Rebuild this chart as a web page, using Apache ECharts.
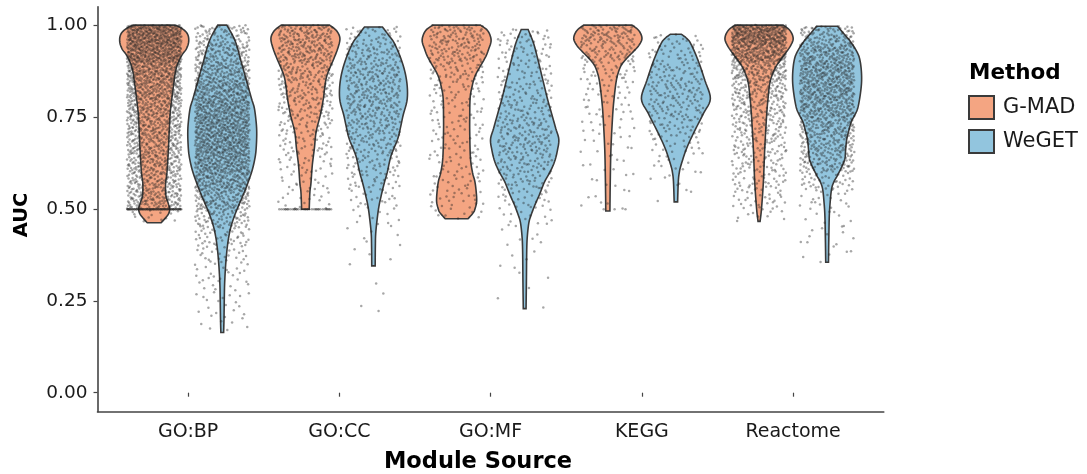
<!DOCTYPE html>
<html>
<head>
<meta charset="utf-8">
<script src="https://cdn.jsdelivr.net/npm/echarts@6/dist/echarts.min.js"></script>
<style>
  html, body { margin: 0; padding: 0; background: #fff; }
  #chart { width: 1087px; height: 474px; }
</style>
</head>
<body>
<div id="chart"></div>
<script>
// categories and methods
var categories = ['GO:BP', 'GO:CC', 'GO:MF', 'KEGG', 'Reactome'];
var methods = ['G-MAD', 'WeGET'];
var yTicks = [0, 0.25, 0.5, 0.75, 1];

// violin outlines: [AUC, relative half width (1 = widest)]
var gmadBP = [[1.00,0.61],[0.99,0.82],[0.975,0.97],[0.955,1.0],[0.935,0.93],[0.918,0.80],[0.895,0.68],[0.87,0.61],[0.85,0.58],[0.80,0.51],[0.757,0.46],[0.70,0.43],[0.66,0.41],[0.60,0.37],[0.57,0.33],[0.537,0.34],[0.515,0.41],[0.50,0.45],[0.485,0.40],[0.463,0.20]];
var gmadCC = [[1.00,0.70],[0.985,0.90],[0.965,1.0],[0.94,0.95],[0.91,0.83],[0.865,0.63],[0.83,0.56],[0.80,0.52],[0.755,0.43],[0.71,0.31],[0.665,0.26],[0.62,0.20],[0.57,0.16],[0.547,0.13],[0.50,0.11]];
var gmadMF = [[1.00,0.69],[0.985,0.90],[0.96,1.0],[0.935,0.93],[0.91,0.82],[0.865,0.55],[0.83,0.44],[0.80,0.39],[0.75,0.38],[0.71,0.38],[0.64,0.40],[0.60,0.46],[0.575,0.53],[0.545,0.57],[0.52,0.58],[0.50,0.53],[0.49,0.48],[0.474,0.33]];
var gmadKEGG = [[1.00,0.70],[0.985,0.90],[0.964,0.99],[0.945,0.90],[0.928,0.74],[0.91,0.55],[0.891,0.39],[0.87,0.30],[0.846,0.24],[0.80,0.18],[0.755,0.14],[0.664,0.09],[0.573,0.07],[0.495,0.06]];
var gmadReact = [[1.00,0.70],[0.985,0.90],[0.964,0.99],[0.945,0.92],[0.928,0.80],[0.905,0.62],[0.882,0.46],[0.846,0.32],[0.80,0.26],[0.755,0.22],[0.664,0.165],[0.573,0.125],[0.50,0.07],[0.467,0.03]];

var wegetBP = [[1.00,0.13],[0.958,0.37],[0.90,0.55],[0.85,0.70],[0.80,0.85],[0.775,0.93],[0.74,0.98],[0.71,1.0],[0.675,0.99],[0.645,0.96],[0.61,0.88],[0.573,0.75],[0.535,0.59],[0.50,0.43],[0.47,0.31],[0.44,0.22],[0.40,0.15],[0.35,0.10],[0.30,0.07],[0.26,0.06],[0.20,0.05],[0.165,0.04]];
var wegetCC = [[0.995,0.26],[0.975,0.42],[0.95,0.61],[0.90,0.83],[0.85,0.96],[0.80,0.98],[0.755,0.86],[0.72,0.78],[0.69,0.70],[0.645,0.51],[0.60,0.40],[0.57,0.31],[0.535,0.22],[0.50,0.145],[0.44,0.07],[0.40,0.055],[0.346,0.05]];
var wegetMF = [[0.988,0.10],[0.95,0.26],[0.90,0.40],[0.85,0.53],[0.80,0.66],[0.76,0.78],[0.72,0.90],[0.69,0.99],[0.66,0.95],[0.63,0.87],[0.60,0.73],[0.575,0.58],[0.54,0.43],[0.51,0.29],[0.485,0.19],[0.465,0.125],[0.43,0.08],[0.39,0.06],[0.30,0.05],[0.23,0.04]];
var wegetKEGG = [[0.975,0.16],[0.965,0.30],[0.95,0.43],[0.905,0.64],[0.85,0.84],[0.80,1.0],[0.76,0.80],[0.71,0.53],[0.665,0.31],[0.62,0.15],[0.60,0.10],[0.575,0.07],[0.52,0.05]];
var wegetReact = [[0.997,0.30],[0.975,0.50],[0.955,0.68],[0.93,0.85],[0.91,0.94],[0.88,0.99],[0.846,1.0],[0.81,0.96],[0.775,0.89],[0.755,0.80],[0.737,0.70],[0.71,0.62],[0.69,0.57],[0.664,0.54],[0.64,0.52],[0.627,0.48],[0.61,0.40],[0.59,0.29],[0.575,0.20],[0.555,0.13],[0.52,0.09],[0.482,0.064],[0.42,0.05],[0.356,0.04]];

// number of jittered modules per AUC bin (bins of 0.05, from 1.00 down), estimated from the dot clouds
var binTops = [1.00,0.95,0.90,0.85,0.80,0.75,0.70,0.65,0.60,0.55,0.50,0.45,0.40,0.35,0.30,0.25,0.20];
var gmadBPdots = [300,275,200,175,150,138,130,122,113,120,15];
var gmadCCdots = [109,106,79,67,54,41,33,25,19,15];
var gmadMFdots = [75,70,45,30,25,23,22,22,22,20,8];
var gmadKEGGdots = [86,61,32,21,16,13,10,8,7,6];
var gmadReactDots = [290,215,126,90,74,62,53,46,37,28,10];
var gmadAtHalf = [80, 35, 0, 3, 0];   // modules sitting exactly at AUC 0.5

var wegetBPdots = [70,100,125,155,180,192,192,176,145,110,70,42,27,20,15,11,7];
var wegetCCdots = [35,62,74,80,75,66,53,39,30,19,10,6,4,1,2,1,0];
var wegetMFdots = [25,30,30,38,45,55,60,50,37,24,13,6,4,3,3,1,0];
var wegetKEGGdots = [12,31,42,53,50,35,21,12,6,2];
var wegetReactDots = [80,130,150,150,135,108,90,80,40,17,10,9,6];
var wegetAtHalf = [0, 0, 0, 0, 0];

var gmadViolins = [gmadBP, gmadCC, gmadMF, gmadKEGG, gmadReact];
var wegetViolins = [wegetBP, wegetCC, wegetMF, wegetKEGG, wegetReact];
var gmadDots = [gmadBPdots, gmadCCdots, gmadMFdots, gmadKEGGdots, gmadReactDots];
var wegetDots = [wegetBPdots, wegetCCdots, wegetMFdots, wegetKEGGdots, wegetReactDots];

var ORANGE = '#F4A582', BLUE = '#92C5DE', OUTLINE = '#3a3a3a';
var DODGE = 0.225;     // violin centre offset from the category position
var MAXHALF = 0.228;   // widest half width, in category units
var JITTER = 0.18;     // horizontal jitter of the dots
var FONT = 'DejaVu Sans, sans-serif';

// catmull-rom through the outline points (pixel space)
function smoothSide(pts, cxPx) {
  var out = [pts[0]], n = 6;
  for (var i = 0; i < pts.length - 1; i++) {
    var p0 = pts[Math.max(i - 1, 0)], p1 = pts[i], p2 = pts[i + 1], p3 = pts[Math.min(i + 2, pts.length - 1)];
    for (var s = 1; s <= n; s++) {
      var t = s / n, t2 = t * t, t3 = t2 * t;
      var x = 0.5 * ((2 * p1[0]) + (-p0[0] + p2[0]) * t + (2 * p0[0] - 5 * p1[0] + 4 * p2[0] - p3[0]) * t2 + (-p0[0] + 3 * p1[0] - 3 * p2[0] + p3[0]) * t3);
      var y = 0.5 * ((2 * p1[1]) + (-p0[1] + p2[1]) * t + (2 * p0[1] - 5 * p1[1] + 4 * p2[1] - p3[1]) * t2 + (-p0[1] + 3 * p1[1] - 3 * p2[1] + p3[1]) * t3);
      out.push([Math.max(x, cxPx + 0.6), y]);
    }
  }
  return out;
}

function violinRenderer(profiles, offset) {
  return function (params, api) {
    var prof = profiles[params.dataIndex];
    var cx = api.value(0) + offset;
    var cxPx = api.coord([cx, 0])[0];
    var halfPx = api.size([MAXHALF, 0])[0];
    var right = prof.map(function (p) {
      return [cxPx + p[1] * halfPx, api.coord([cx, p[0]])[1]];
    });
    var side = smoothSide(right, cxPx);
    var left = side.map(function (p) { return [2 * cxPx - p[0], p[1]]; }).reverse();
    return {
      type: 'polygon',
      shape: { points: side.concat(left) },
      style: { fill: api.visual('color'), stroke: OUTLINE, lineWidth: 1.6 }
    };
  };
}

// radical inverse, for a Halton layout of the jittered dots
function halton(i, base) {
  var f = 1, r = 0;
  while (i > 0) { f /= base; r += f * (i % base); i = Math.floor(i / base); }
  return r;
}

// spread each violin's modules over the jitter band, each bin getting its own count
function addDots(prof, counts, atHalf, cx, seed, out) {
  var top = prof[0][0], bot = prof[prof.length - 1][0];
  var ranges = counts.map(function (n, b) {
    var hi = binTops[b], lo = hi - 0.05;
    if (hi > top) hi = top;
    if (lo < bot && hi > bot) lo = bot;
    return [lo, hi];
  });
  var cum = [0];
  counts.forEach(function (n) { cum.push(cum[cum.length - 1] + n); });
  var total = cum[cum.length - 1];
  for (var i = 0; i < total; i++) {
    var idx = seed + i;
    var u = halton(idx, 3), v = halton(idx, 2);
    var t = v * total, b = 0;
    while (b < counts.length - 1 && t >= cum[b + 1]) b++;
    var f = (t - cum[b]) / counts[b];
    var r = ranges[b];
    out.push([cx + (2 * u - 1) * JITTER, r[1] - f * (r[1] - r[0])]);
  }
  for (var j = 0; j < atHalf; j++) {
    out.push([cx + (2 * halton(seed + total + j, 5) - 1) * JITTER, 0.5]);
  }
}

var dotData = [];
categories.forEach(function (c, i) {
  addDots(gmadViolins[i], gmadDots[i], gmadAtHalf[i], i + 1 - DODGE, i * 977 + 11, dotData);
  addDots(wegetViolins[i], wegetDots[i], wegetAtHalf[i], i + 1 + DODGE, i * 977 + 4133, dotData);
});

var positions = categories.map(function (c, i) { return [i + 1, 0.5]; });

var chart = echarts.init(document.getElementById('chart'));
var option = {
  animation: false,
  grid: [
    { left: 97.5, right: 203.2, top: 6.7, bottom: 62.3 },
    { left: 112.6, right: 218.3, top: 25, bottom: 81.3 }
  ],
  xAxis: [
    { gridIndex: 0, type: 'value', min: 0.4, max: 5.6,
      axisLine: { show: true, onZero: false, lineStyle: { color: '#444', width: 1.6 } },
      axisTick: { show: false }, axisLabel: { show: false }, splitLine: { show: false } },
    { gridIndex: 1, type: 'category', data: categories, boundaryGap: true, offset: 19,
      axisLine: { show: false },
      axisTick: { show: true, alignWithLabel: true, length: 4, lineStyle: { color: '#444', width: 1.2 } },
      axisLabel: { fontSize: 19, color: '#1a1a1a', fontFamily: FONT, margin: 11 },
      splitLine: { show: false } }
  ],
  yAxis: [
    { gridIndex: 0, type: 'value', min: -0.05, max: 1.05,
      axisLine: { show: true, onZero: false, lineStyle: { color: '#444', width: 1.6 } },
      axisTick: { show: false }, axisLabel: { show: false }, splitLine: { show: false } },
    { gridIndex: 1, type: 'value', min: yTicks[0], max: yTicks[yTicks.length - 1], interval: 0.25, offset: 15.1,
      axisLine: { show: false },
      axisTick: { show: true, length: 4, lineStyle: { color: '#444', width: 1.2 } },
      axisLabel: { fontSize: 18.5, color: '#1a1a1a', fontFamily: FONT, margin: 10,
        formatter: function (v) { return v.toFixed(2); } },
      splitLine: { show: false } }
  ],
  legend: {
    orient: 'vertical', left: 968, top: 95, padding: 0,
    itemWidth: 25, itemHeight: 23, itemGap: 9, selectedMode: false,
    textStyle: { fontSize: 21, color: '#1a1a1a', fontFamily: FONT, padding: [0, 0, 0, 4] },
    data: [
      { name: methods[0], icon: 'rect', itemStyle: { color: ORANGE, borderColor: OUTLINE, borderWidth: 2 } },
      { name: methods[1], icon: 'rect', itemStyle: { color: BLUE, borderColor: OUTLINE, borderWidth: 2 } }
    ]
  },
  graphic: [
    { type: 'text', x: 969, y: 73, style: { text: 'Method', fontSize: 21.5, fontWeight: 'bold', fontFamily: FONT, fill: '#000', align: 'left', verticalAlign: 'middle' } },
    { type: 'text', x: 22, y: 215, rotation: Math.PI / 2, style: { text: 'AUC', fontSize: 19.5, fontWeight: 'bold', fontFamily: FONT, fill: '#000', align: 'center', verticalAlign: 'middle' } },
    { type: 'text', x: 478, y: 462, style: { text: 'Module Source', fontSize: 22.5, fontWeight: 'bold', fontFamily: FONT, fill: '#000', align: 'center', verticalAlign: 'middle' } },
    { type: 'circle', shape: { cx: 980.5, cy: 106.5, r: 1.3 }, style: { fill: 'rgba(45,45,45,0.7)' } },
    { type: 'circle', shape: { cx: 980.5, cy: 138.5, r: 1.3 }, style: { fill: 'rgba(45,45,45,0.7)' } }
  ],
  series: [
    { name: methods[0], type: 'custom', xAxisIndex: 0, yAxisIndex: 0, z: 2,
      itemStyle: { color: ORANGE }, data: positions,
      renderItem: violinRenderer(gmadViolins, -DODGE) },
    { name: methods[1], type: 'custom', xAxisIndex: 0, yAxisIndex: 0, z: 2,
      itemStyle: { color: BLUE }, data: positions,
      renderItem: violinRenderer(wegetViolins, DODGE) },
    { name: 'modules', type: 'scatter', xAxisIndex: 0, yAxisIndex: 0, z: 3,
      silent: true, progressive: 0, symbol: 'circle', symbolSize: 2.5,
      itemStyle: { color: 'rgba(35,35,35,0.5)' }, data: dotData }
  ]
};
chart.setOption(option);
</script>
</body>
</html>
